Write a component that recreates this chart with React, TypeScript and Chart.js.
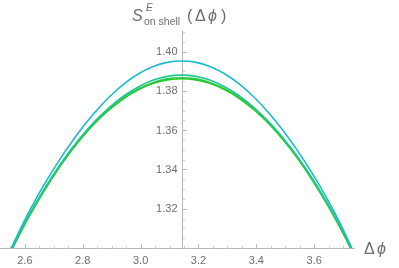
import React, { useEffect, useRef } from "react";
import { Chart, registerables } from "chart.js";

Chart.register(...registerables);

// Δφ sample positions (around π)
const xValues = [
  2.5416, 2.5916, 2.6416, 2.6916, 2.7416, 2.7916, 2.8416, 2.8916, 2.9416, 2.9916, 3.0416, 3.0916,
  3.1416, 3.1916, 3.2416, 3.2916, 3.3416, 3.3916, 3.4416, 3.4916, 3.5416, 3.5916, 3.6416, 3.6916, 3.7416,
];

const cyanValues = [
  1.2962, 1.3119, 1.3259, 1.3384, 1.3497, 1.36, 1.369, 1.3769, 1.3835, 1.3886, 1.3923, 1.3945,
  1.3952, 1.3945, 1.3923, 1.3886, 1.3835, 1.3769, 1.369, 1.36, 1.3497, 1.3384, 1.3259, 1.3119, 1.2962,
];
const tealValues = [
  1.296, 1.3106, 1.3238, 1.3358, 1.3466, 1.3561, 1.3645, 1.3715, 1.3774, 1.382, 1.3854, 1.3874,
  1.388, 1.3874, 1.3854, 1.382, 1.3774, 1.3715, 1.3645, 1.3561, 1.3466, 1.3358, 1.3238, 1.3106, 1.296,
];
const greenAValues = [
  1.2957, 1.3103, 1.3235, 1.3355, 1.3463, 1.3557, 1.364, 1.3709, 1.3766, 1.381, 1.3842, 1.3861,
  1.3867, 1.3861, 1.3842, 1.381, 1.3766, 1.3709, 1.364, 1.3557, 1.3463, 1.3355, 1.3235, 1.3103, 1.2957,
];
const greenBValues = [
  1.2952, 1.3098, 1.323, 1.335, 1.3458, 1.3552, 1.3635, 1.3704, 1.3761, 1.3805, 1.3837, 1.3856,
  1.3862, 1.3856, 1.3837, 1.3805, 1.3761, 1.3704, 1.3635, 1.3552, 1.3458, 1.335, 1.323, 1.3098, 1.2952,
];

const xMajorTicks = [2.6, 2.8, 3.0, 3.2, 3.4, 3.6];
const xTickLabels = ["2.6", "2.8", "3.0", "3.2", "3.4", "3.6"];
const xMinorTicks = [2.55, 2.65, 2.7, 2.75, 2.85, 2.9, 2.95, 3.05, 3.1, 3.15, 3.25, 3.3, 3.35, 3.45, 3.5, 3.55, 3.65, 3.7];
const yMajorTicks = [1.32, 1.34, 1.36, 1.38, 1.4];
const yTickLabels = ["1.32", "1.34", "1.36", "1.38", "1.40"];
const yMinorTicks = [1.305, 1.31, 1.315, 1.325, 1.33, 1.335, 1.345, 1.35, 1.355, 1.365, 1.37, 1.375, 1.385, 1.39, 1.395, 1.405, 1.41];

const X_MIN = 2.514;
const X_MAX = 3.741;
const Y_MIN = 1.3;
const Y_MAX = 1.411;
const Y_AXIS_AT = 3.1416;

const AXIS_COLOR = "#b8b8b8";
const TEXT_COLOR = "#6e6e6e";
const FONT = '"Liberation Sans", Arial, sans-serif';

const axesPlugin = {
  id: "mmaAxes",
  beforeDatasetsDraw(chart: any) {
    const { ctx, chartArea } = chart;
    const xs = chart.scales.x;
    const ys = chart.scales.y;
    const y0 = Math.round(ys.getPixelForValue(Y_MIN)) + 0.5;
    const x0 = Math.round(xs.getPixelForValue(Y_AXIS_AT)) + 0.5;
    ctx.save();
    ctx.strokeStyle = AXIS_COLOR;
    ctx.lineWidth = 1;
    ctx.beginPath();
    ctx.moveTo(chartArea.left, y0);
    ctx.lineTo(chartArea.right, y0);
    ctx.stroke();
    ctx.beginPath();
    ctx.moveTo(x0, chartArea.top);
    ctx.lineTo(x0, y0);
    ctx.stroke();
    ctx.beginPath();
    xMajorTicks.forEach((v) => {
      const px = Math.round(xs.getPixelForValue(v)) + 0.5;
      ctx.moveTo(px, y0);
      ctx.lineTo(px, y0 - 4.5);
    });
    ctx.stroke();
    ctx.strokeStyle = "#cfcfcf";
    ctx.beginPath();
    xMinorTicks.forEach((v) => {
      const px = Math.round(xs.getPixelForValue(v)) + 0.5;
      ctx.moveTo(px, y0);
      ctx.lineTo(px, y0 - 2.5);
    });
    ctx.stroke();
    ctx.strokeStyle = AXIS_COLOR;
    ctx.beginPath();
    yMajorTicks.forEach((v) => {
      const py = Math.round(ys.getPixelForValue(v)) + 0.5;
      ctx.moveTo(x0, py);
      ctx.lineTo(x0 + 4.5, py);
    });
    ctx.stroke();
    ctx.strokeStyle = "#cfcfcf";
    ctx.beginPath();
    yMinorTicks.forEach((v) => {
      const py = Math.round(ys.getPixelForValue(v)) + 0.5;
      ctx.moveTo(x0, py);
      ctx.lineTo(x0 + 2.5, py);
    });
    ctx.stroke();

    ctx.fillStyle = TEXT_COLOR;
    ctx.font = `11px ${FONT}`;
    ctx.textAlign = "center";
    ctx.textBaseline = "middle";
    xMajorTicks.forEach((v, i) => {
      ctx.fillText(xTickLabels[i], xs.getPixelForValue(v), y0 + 12);
    });
    ctx.textAlign = "right";
    yMajorTicks.forEach((v, i) => {
      ctx.fillText(yTickLabels[i], x0 - 5, ys.getPixelForValue(v) + 0.5);
    });

    ctx.textAlign = "left";
    ctx.textBaseline = "alphabetic";
    ctx.font = `16px ${FONT}`;
    ctx.fillText("Δ", 364, 254);
    ctx.font = `italic 16px ${FONT}`;
    ctx.fillText("ϕ", 377, 254);

    ctx.font = `italic 16px ${FONT}`;
    ctx.fillText("S", 132, 21);
    ctx.font = `italic 10px ${FONT}`;
    ctx.fillText("E", 146, 11);
    ctx.font = `10.5px ${FONT}`;
    ctx.fillText("on shell", 144, 25);
    ctx.font = `16px ${FONT}`;
    ctx.fillText("(", 187, 21);
    ctx.fillText("Δ", 195, 21);
    ctx.font = `italic 16px ${FONT}`;
    ctx.fillText("ϕ", 208, 21);
    ctx.font = `16px ${FONT}`;
    ctx.fillText(")", 221, 21);
    ctx.restore();
  },
};

function mkPoints(vals: number[]) {
  return xValues.map((x, i) => ({ x, y: vals[i] }));
}

export default function App() {
  const ref = useRef<HTMLCanvasElement | null>(null);
  useEffect(() => {
    if (!ref.current) return;
    const chart = new Chart(ref.current, {
      type: "line",
      data: {
        datasets: [
          { data: mkPoints(cyanValues), borderColor: "#1cbacc", borderWidth: 1.6 },
          { data: mkPoints(tealValues), borderColor: "#20c690", borderWidth: 1.6 },
          { data: mkPoints(greenAValues), borderColor: "#2cc84c", borderWidth: 1.6 },
          { data: mkPoints(greenBValues), borderColor: "#1fcb16", borderWidth: 1.6 },
        ].map((d) => ({ ...d, pointRadius: 0, fill: false, tension: 0.4 })),
      },
      options: {
        animation: false,
        responsive: false,
        layout: { padding: { left: 0, right: 44, top: 30, bottom: 20 } },
        plugins: { legend: { display: false }, tooltip: { enabled: false } },
        scales: {
          x: { type: "linear", min: X_MIN, max: X_MAX, display: false },
          y: { type: "linear", min: Y_MIN, max: Y_MAX, display: false },
        },
      },
      plugins: [axesPlugin],
    });
    return () => chart.destroy();
  }, []);
  return (
    <div style={{ position: "fixed", left: 0, top: 0, width: 399, height: 268, background: "#fff" }}>
      <canvas ref={ref} width={399} height={268} style={{ width: 399, height: 268 }} />
    </div>
  );
}
